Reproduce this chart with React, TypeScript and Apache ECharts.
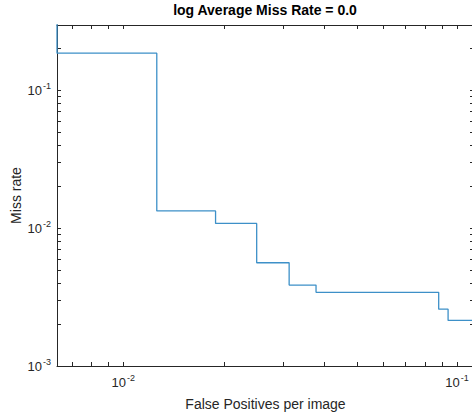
import React, { useEffect, useRef } from 'react';
import * as echarts from 'echarts';

// Step curve (fppi vs miss rate)
const fppi = [0.00633, 0.00633, 0.0126, 0.0189, 0.0251, 0.0314, 0.0378, 0.0881, 0.094, 0.1124];
const missRate = [1.0, 0.185, 0.0133, 0.0108, 0.0056, 0.00386, 0.00342, 0.00258, 0.00214, 0.00214];

// Tick marks (log axes, major + minor)
const xTickValues = [0.007, 0.008, 0.009, 0.01, 0.02, 0.03, 0.04, 0.05, 0.06, 0.07, 0.08, 0.09, 0.1];
const yTickValues = [
  0.002, 0.003, 0.004, 0.005, 0.006, 0.007, 0.008, 0.009,
  0.01, 0.02, 0.03, 0.04, 0.05, 0.06, 0.07, 0.08, 0.09,
  0.1, 0.2,
];
// Labelled ticks
const xLabelValues = [0.01, 0.1];
const yLabelValues = [0.001, 0.01, 0.1];

const titleText = 'log Average Miss Rate = 0.0';
const xName = 'False Positives per image';
const yName = 'Miss rate';

const X_MIN = 0.00633;
const X_MAX = 0.1124;
const Y_MIN = 0.001;
const Y_MAX = 0.296;

const FONT = '"Liberation Sans", Arial, Helvetica, sans-serif';
const AXIS = '#262626';
const LINE = '#3d90c8';
const TICK = 4;

function makeFormatter(labels: number[]) {
  return (v: number) => {
    const lv = Math.log10(v);
    const m = labels.find((l) => Math.abs(Math.log10(l) - lv) < 1e-6);
    if (m === undefined) return '';
    return `{b|10}{s|${Math.round(Math.log10(m))}}`;
  };
}

const rich = {
  b: { fontSize: 13, fontFamily: FONT, color: AXIS },
  s: { fontSize: 9, fontFamily: FONT, color: AXIS, padding: [0, 0, 9, 1] },
};

export default function App() {
  const ref = useRef<HTMLDivElement>(null);
  useEffect(() => {
    if (!ref.current) return;
    const chart = echarts.init(ref.current, undefined, { renderer: 'svg' });
    const axisLine = { show: true, onZero: false, lineStyle: { color: AXIS, width: 1 } };
    const baseAxis = {
      type: 'log' as const,
      logBase: 10,
      axisLine,
      axisTick: { show: false },
      minorTick: { show: false },
      splitLine: { show: false },
      minorSplitLine: { show: false },
    };
    chart.setOption({
      animation: false,
      backgroundColor: '#ffffff',
      title: {
        text: titleText,
        left: 265,
        top: 3,
        padding: 0,
        textAlign: 'center',
        textStyle: { fontSize: 14, fontWeight: 'bold', color: '#000', fontFamily: FONT },
      },
      grid: {
        left: 57,
        top: 25,
        right: -2,
        bottom: 51,
        containLabel: false,
        outerBoundsMode: 'none',
      },
      xAxis: [
        {
          ...baseAxis,
          position: 'bottom',
          min: X_MIN,
          max: X_MAX,
          axisLabel: { formatter: makeFormatter(xLabelValues), rich, margin: 7, color: AXIS },
          name: xName,
          nameLocation: 'middle',
          nameGap: 31,
          nameMoveOverlap: false,
          nameTextStyle: { fontSize: 14, color: AXIS, fontFamily: FONT },
        },
        {
          ...baseAxis,
          position: 'top',
          min: X_MIN,
          max: X_MAX,
          axisLabel: { show: false },
        },
      ],
      yAxis: [
        {
          ...baseAxis,
          position: 'left',
          min: Y_MIN,
          max: Y_MAX,
          axisLabel: { formatter: makeFormatter(yLabelValues), rich, margin: 6, color: AXIS },
          name: yName,
          nameLocation: 'middle',
          nameGap: 34,
          nameMoveOverlap: false,
          nameTextStyle: { fontSize: 14, color: AXIS, fontFamily: FONT },
        },
        {
          ...baseAxis,
          position: 'right',
          min: Y_MIN,
          max: Y_MAX,
          axisLabel: { show: false },
        },
      ],
      series: [
        {
          type: 'line',
          xAxisIndex: 0,
          yAxisIndex: 0,
          data: fppi.map((x, i) => [x, missRate[i]]),
          step: 'end',
          symbol: 'none',
          showSymbol: false,
          clip: true,
          lineStyle: { color: LINE, width: 1.3 },
          z: 5,
        },
        {
          type: 'custom',
          xAxisIndex: 0,
          yAxisIndex: 0,
          silent: true,
          data: xTickValues.map((v) => [v, Y_MIN]),
          renderItem: (params: any, api: any) => {
            const cs = params.coordSys;
            const x = Math.round(api.coord([api.value(0), Y_MIN])[0]) + 0.5;
            const b = cs.y + cs.height;
            const t = cs.y;
            const style = { stroke: AXIS, lineWidth: 1 };
            return {
              type: 'group',
              children: [
                { type: 'line', shape: { x1: x, y1: b, x2: x, y2: b - TICK }, style },
                { type: 'line', shape: { x1: x, y1: t, x2: x, y2: t + TICK }, style },
              ],
            };
          },
          z: 1,
        },
        {
          type: 'custom',
          xAxisIndex: 0,
          yAxisIndex: 0,
          silent: true,
          data: yTickValues.map((v) => [X_MIN, v]),
          renderItem: (params: any, api: any) => {
            const cs = params.coordSys;
            const y = Math.round(api.coord([X_MIN, api.value(1)])[1]) + 0.5;
            const l = cs.x;
            const r = cs.x + cs.width;
            const style = { stroke: AXIS, lineWidth: 1 };
            return {
              type: 'group',
              children: [
                { type: 'line', shape: { x1: l, y1: y, x2: l + TICK, y2: y }, style },
                { type: 'line', shape: { x1: r, y1: y, x2: r - TICK, y2: y }, style },
              ],
            };
          },
          z: 1,
        },
      ],
    });
    return () => chart.dispose();
  }, []);
  return (
    <div
      ref={ref}
      style={{ position: 'absolute', left: 0, top: 0, width: 472, height: 417 }}
    />
  );
}
